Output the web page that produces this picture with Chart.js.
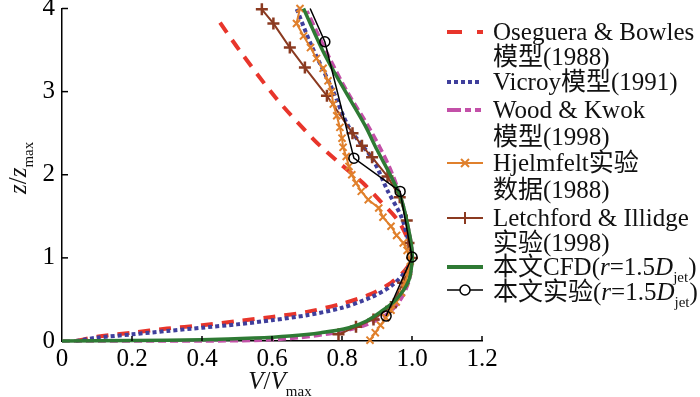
<!DOCTYPE html>
<html><head><meta charset="utf-8">
<script src="https://cdn.jsdelivr.net/npm/chart.js@4/dist/chart.umd.min.js"></script>
<style>
html,body{margin:0;padding:0;background:#fff;}
#wrap{position:relative;width:700px;height:397px;overflow:hidden;}
canvas{position:absolute;left:0;top:0;}
.t{position:absolute;font-family:"Liberation Serif","Tinos","Times New Roman","DejaVu Serif","Noto Sans CJK SC",serif;font-size:25px;line-height:26px;white-space:nowrap;color:#111;}
.i{font-style:italic;}
.sub{font-size:15px;position:relative;top:7px;font-style:normal;}
</style></head><body>
<div id="wrap">
<canvas id="c" width="700" height="397"></canvas>
<div class="t" style="left:493px;top:19px">Oseguera &amp; Bowles</div>
<div class="t" style="left:493px;top:44px">模型(1988)</div>
<div class="t" style="left:493px;top:69px">Vicroy模型(1991)</div>
<div class="t" style="left:493px;top:97px">Wood &amp; Kwok</div>
<div class="t" style="left:493px;top:124px">模型(1998)</div>
<div class="t" style="left:493px;top:150px">Hjelmfelt实验</div>
<div class="t" style="left:493px;top:177px">数据(1988)</div>
<div class="t" style="left:493px;top:205px">Letchford &amp; Illidge</div>
<div class="t" style="left:493px;top:230px">实验(1998)</div>
<div class="t" style="left:493px;top:254px">本文CFD(<span class="i">r</span>=1.5<span class="i">D</span><span class="sub">jet</span>)</div>
<div class="t" style="left:493px;top:279px">本文实验(<span class="i">r</span>=1.5<span class="i">D</span><span class="sub">jet</span>)</div>
<svg style="position:absolute;left:0;top:0" width="700" height="397">
<line x1="447" y1="32" x2="483" y2="32" stroke="#e8352b" stroke-width="4" stroke-dasharray="15 15"/>
<line x1="447" y1="82" x2="482" y2="82" stroke="#3f3f9c" stroke-width="4" stroke-dasharray="4 3"/>
<line x1="447" y1="110" x2="483" y2="110" stroke="#c350a8" stroke-width="4" stroke-dasharray="14 4 6 4 6"/>
<line x1="447" y1="163" x2="483" y2="163" stroke="#e0802c" stroke-width="2"/>
<path d="M461 159 L469 167 M469 159 L461 167" stroke="#e0802c" stroke-width="2"/>
<line x1="447" y1="218" x2="483" y2="218" stroke="#8b3a20" stroke-width="2"/>
<path d="M465 212 L465 224" stroke="#8b3a20" stroke-width="2"/>
<line x1="447" y1="267" x2="483" y2="267" stroke="#2e7a34" stroke-width="4"/>
<line x1="447" y1="290" x2="483" y2="290" stroke="#000" stroke-width="1.5"/>
<circle cx="465" cy="290" r="5" fill="#fff" stroke="#000" stroke-width="1.5"/>
</svg>
<div class="t" style="left:0;top:163px;width:36px;text-align:center;transform:rotate(-90deg);transform-origin:18px 13px;"><span class="i">z</span>/<span class="i">z</span><span class="sub">max</span></div>
<div class="t" style="left:230px;top:368px;width:100px;text-align:center;"><span class="i">V</span>/<span class="i">V</span><span class="sub">max</span></div>
</div>
<script>
// Oseguera & Bowles model (1988)
const oseguraV = [0.04,0.10,0.20,0.30,0.40,0.50,0.60,0.70,0.80,0.88,0.94,0.98,1.00,0.99,0.96,0.91,0.86,0.79,0.72,0.61,0.51,0.44];
const oseguraZ = [0.00,0.05,0.10,0.15,0.19,0.24,0.29,0.35,0.45,0.56,0.70,0.85,1.00,1.20,1.45,1.68,1.90,2.15,2.42,2.93,3.48,3.90];
// Vicroy model (1991)
const vicroyV = [0.04,0.10,0.20,0.30,0.40,0.50,0.60,0.70,0.80,0.88,0.94,0.98,1.00,0.99,0.97,0.93,0.89,0.82,0.77,0.71,0.67];
const vicroyZ = [0.00,0.04,0.08,0.12,0.16,0.20,0.25,0.31,0.40,0.52,0.66,0.83,1.00,1.20,1.49,1.81,2.17,2.57,3.05,3.58,4.00];
// Wood & Kwok model (1998)
const woodV = [0.00,0.40,0.57,0.68,0.78,0.86,0.92,0.96,0.99,1.00,1.00,0.99,0.97,0.935,0.88,0.815,0.765,0.70];
const woodZ = [0.00,0.00,0.01,0.04,0.10,0.18,0.30,0.45,0.70,0.95,1.10,1.35,1.70,2.10,2.55,3.00,3.40,3.97];
// Hjelmfelt experiment (1988)
const hjelmV = [0.88,0.895,0.91,0.925,0.94,0.955,0.97,0.98,0.99,0.995,0.986,0.975,0.956,0.94,0.917,0.905,0.875,0.855,0.84,0.828,0.82,0.812,0.803,0.80,0.794,0.785,0.775,0.77,0.76,0.746,0.727,0.71,0.69,0.67,0.68];
const hjelmZ = [0.01,0.10,0.19,0.28,0.37,0.47,0.58,0.70,0.83,0.96,1.09,1.18,1.27,1.38,1.49,1.60,1.70,1.80,1.90,2.00,2.10,2.22,2.33,2.44,2.57,2.71,2.85,3.00,3.13,3.28,3.40,3.53,3.67,3.82,4.00];
// Letchford & Illidge experiment (1998)
const letchV = [0.79,0.84,0.89,0.94,0.975,1.00,0.99,0.985,0.965,0.93,0.886,0.857,0.83,0.757,0.694,0.651,0.604,0.571];
const letchZ = [0.08,0.17,0.26,0.41,0.70,1.00,1.18,1.45,1.73,1.98,2.21,2.35,2.50,2.95,3.29,3.53,3.82,3.99];
// This paper CFD (r=1.5Djet)
const cfdV = [0.00,0.20,0.40,0.55,0.65,0.74,0.82,0.87,0.91,0.955,0.99,1.00,1.00,0.99,0.97,0.94,0.90,0.865,0.81,0.75,0.69];
const cfdZ = [0.00,0.005,0.015,0.035,0.06,0.10,0.16,0.24,0.35,0.50,0.72,0.95,1.10,1.35,1.70,1.98,2.30,2.60,3.00,3.45,4.00];
// This paper experiment (r=1.5Djet)
const expV = [0.926,1.00,0.966,0.834,0.751,0.709];
const expZ = [0.30,1.01,1.80,2.20,3.60,4.00];
const expMarker = [1,1,1,1,1,0];

const xTicks = [0,0.2,0.4,0.6,0.8,1.0,1.2];
const yTicks = [0,1,2,3,4];

const pts = (v,z)=>v.map((x,i)=>({x:x,y:z[i]}));

const inwardTicks = {
  id:'inwardTicks',
  afterDraw(chart){
    const {ctx, scales:{x,y}} = chart;
    ctx.save();
    ctx.strokeStyle='#000'; ctx.lineWidth=1.5;
    const yb = y.getPixelForValue(0), xl = x.getPixelForValue(0);
    xTicks.forEach(t=>{ if(t===0) return; const px=x.getPixelForValue(t); ctx.beginPath(); ctx.moveTo(px,yb); ctx.lineTo(px,yb-5); ctx.stroke(); });
    yTicks.forEach(t=>{ if(t===0) return; const py=y.getPixelForValue(t); ctx.beginPath(); ctx.moveTo(xl,py); ctx.lineTo(xl+6,py); ctx.stroke(); });
    ctx.restore();
  }
};

const tickFont = {family:'"Liberation Serif", Tinos, "Times New Roman", "DejaVu Serif", serif', size:25};
new Chart(document.getElementById('c'), {
  type:'scatter',
  data:{datasets:[
    {label:'Oseguera', data:pts(oseguraV,oseguraZ), showLine:true, borderColor:'#e8352b', borderWidth:4, borderDash:[12,9], pointRadius:0, tension:0.3, order:6, clip:false},
    {label:'Vicroy', data:pts(vicroyV,vicroyZ), showLine:true, borderColor:'#3f3f9c', borderWidth:4, borderDash:[4,3], pointRadius:0, tension:0.3, order:5, clip:false},
    {label:'Wood', data:pts(woodV,woodZ), showLine:true, borderColor:'#c350a8', borderWidth:3.5, borderDash:[8,4], pointRadius:0, tension:0.3, order:4, clip:false},
    {label:'Letchford', data:pts(letchV,letchZ), showLine:true, borderColor:'#8b3a20', borderWidth:2, pointStyle:'cross', pointRadius:6, pointBorderWidth:2.5, pointBorderColor:'#8b3a20', pointBackgroundColor:'#8b3a20', order:3, clip:false},
    {label:'Hjelmfelt', data:pts(hjelmV,hjelmZ), showLine:true, borderColor:'#e0802c', borderWidth:2, pointStyle:'crossRot', pointRadius:5, pointBorderWidth:2, pointBorderColor:'#e0802c', order:2, clip:false},
    {label:'CFD', data:pts(cfdV,cfdZ), showLine:true, borderColor:'#2e7a34', borderWidth:3.5, pointRadius:0, tension:0.35, order:1, clip:false},
    {label:'Exp', data:pts(expV,expZ), showLine:true, borderColor:'#000', borderWidth:1.5, pointStyle:'circle', pointRadius:expMarker.map(m=>m?5:0), pointBorderWidth:1.5, pointBorderColor:'#000', pointBackgroundColor:'rgba(255,255,255,0)', order:0, clip:false}
  ]},
  options:{
    responsive:false, animation:false,
    layout:{padding:{top:8,right:218,left:0,bottom:0}},
    plugins:{legend:{display:false}, tooltip:{enabled:false}},
    scales:{
      x:{type:'linear', min:0, max:1.2,
        afterFit:s=>{s.height=56; s.paddingLeft=0; s.paddingRight=0;},
        afterBuildTicks:s=>{s.ticks = xTicks.map(v=>({value:v}));},
        grid:{display:false, drawTicks:false},
        border:{display:true, color:'#000', width:1.5},
        ticks:{padding:3, color:'#000', font:tickFont, maxRotation:0, autoSkip:false, callback:v=> v===0?'0':Number(v).toFixed(1)}},
      y:{type:'linear', min:0, max:4,
        afterFit:s=>{s.width=62; s.paddingTop=0; s.paddingBottom=0;},
        afterBuildTicks:s=>{s.ticks = yTicks.map(v=>({value:v}));},
        grid:{display:false, drawTicks:false},
        border:{display:true, color:'#000', width:1.5},
        ticks:{padding:7, color:'#000', font:tickFont, autoSkip:false, callback:v=>String(v)}}
    }
  },
  plugins:[inwardTicks]
});
</script>
</body></html>
